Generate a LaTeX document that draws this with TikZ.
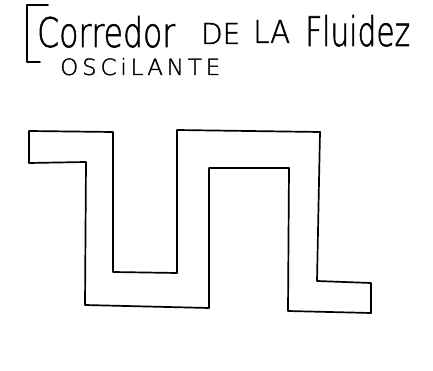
\documentclass[tikz,border=0pt]{standalone}
\usepackage{fontspec}
\setmainfont{DejaVu Sans}
\newfontfamily\hand[BoldFont={DejaVu Sans ExtraLight}, BoldFeatures={FakeBold=1.5}]{DejaVu Sans ExtraLight}
\usepackage{graphicx}
\tikzset{ink/.style={line width=1.7pt, line join=round, line cap=round, black},
  word/.style={anchor=base west, inner sep=0pt, font=\hand\bfseries}}
\begin{document}
\begin{tikzpicture}[x=1pt,y=-1pt]
\useasboundingbox[fill=white] (0,0) rectangle (433,371);
% bracket
\draw[ink] (48,5) -- (27,5) -- (27,62) -- (40,62);
% title
\node[word] (w1) at (37,47) {\resizebox{138pt}{31pt}{Corredor}};
\node[word] (w2) at (201,44) {\resizebox{39pt}{21pt}{DE}};
\node[word] (w3) at (253,43) {\resizebox{37pt}{23pt}{LA}};
\node[word] (w4) at (305,46) {\resizebox{105pt}{31pt}{Fluidez}};
\node[word] (t2) at (60,75)
  {\resizebox{160pt}{17pt}{O\,S\,C\,i\,L\,A\,N\,T\,E}};
% corridor
\draw[ink] (29,131) -- (113,132) -- (113,272) -- (177,273) -- (177,130)
  -- (320,132) -- (317,281) -- (371,283) -- (371,313) -- (288,311)
  -- (289,168) -- (209,168) -- (209,308) -- (85,305) -- (86,162)
  -- (29,163) -- cycle;
\end{tikzpicture}
\end{document}
